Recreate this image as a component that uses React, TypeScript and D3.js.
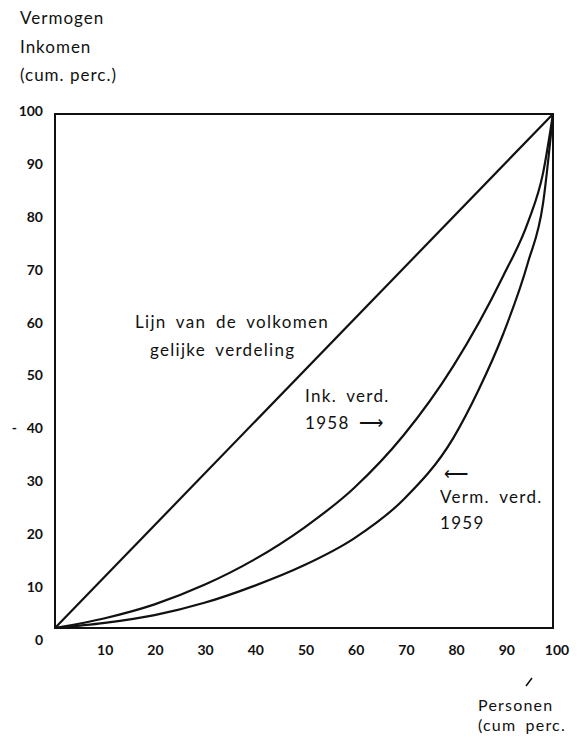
import React from 'react';
import * as d3 from 'd3';

const width = 584;
const height = 737;

// plot box in page pixels
const left = 55;
const right = 553;
const top = 114;
const bottom = 628;

const ticks = [0, 10, 20, 30, 40, 50, 60, 70, 80, 90, 100];

// cum. perc. personen -> cum. perc. inkomen (1958)
const incomeX = [0, 10, 20, 30, 40, 50, 60, 70, 80, 90, 95, 98, 100];
const incomeY = [0, 1.9, 4.6, 8.4, 13.3, 19.5, 27.2, 37.5, 51, 68.5, 79, 88.5, 100];

// cum. perc. personen -> cum. perc. vermogen (1959)
const wealthX = [0, 10, 20, 30, 40, 50, 60, 70, 80, 85, 90, 95, 98, 100];
const wealthY = [0, 1, 2.5, 4.9, 8.2, 12.2, 17.4, 25, 37, 46.2, 57.2, 71.2, 82.6, 100];

const equalX = [0, 100];
const equalY = [0, 100];

const font = 'Lato, "Open Sans", sans-serif';

const x = d3.scaleLinear().domain([0, 100]).range([left, right]);
const y = d3.scaleLinear().domain([0, 100]).range([bottom, top]);
// printed labels drift a little from the box in the scan
const yLabel = d3.scaleLinear().domain([0, 100]).range([640, 111]);
const xLabel = d3.scaleLinear().domain([0, 100]).range([55, 557]);

const line = d3
  .line<[number, number]>()
  .x((d) => x(d[0]))
  .y((d) => y(d[1]))
  .curve(d3.curveMonotoneX);

const pairs = (xs: number[], ys: number[]) =>
  xs.map((v, i) => [v, ys[i]] as [number, number]);

export default function App() {
  return (
    <svg
      width={width}
      height={height}
      style={{ position: 'absolute', left: 0, top: 0, background: '#fff' }}
      fontFamily={font}
    >
      <rect width={width} height={height} fill="#fff" />

      {/* axis title top */}
      <g fontSize={17} letterSpacing={1} fill="#111">
        <text x={20} y={24}>Vermogen</text>
        <text x={20} y={53}>Inkomen</text>
        <text x={20} y={81}>(cum. perc.)</text>
      </g>

      {/* box */}
      <rect
        x={left}
        y={top}
        width={right - left}
        height={bottom - top}
        fill="none"
        stroke="#111"
        strokeWidth={2}
      />

      {/* y labels */}
      <g fontSize={14} fontWeight={700} fill="#111" textAnchor="end">
        {ticks.map((t) => (
          <text key={t} x={43} y={yLabel(t)} dy="0.35em">
            {t}
          </text>
        ))}
      </g>
      <text x={17} y={yLabel(40)} dy="0.35em" fontSize={14} fontWeight={700} fill="#111" textAnchor="end">-</text>

      {/* x labels */}
      <g fontSize={14} fontWeight={700} fill="#111" textAnchor="middle">
        {ticks.slice(1).map((t) => (
          <text key={t} x={xLabel(t)} y={650} dy="0.35em">
            {t}
          </text>
        ))}
      </g>

      {/* lines */}
      <g fill="none" stroke="#111" strokeWidth={2.2} strokeLinejoin="round">
        <path d={line(pairs(equalX, equalY)) || ''} />
        <path d={line(pairs(incomeX, incomeY)) || ''} />
        <path d={line(pairs(wealthX, wealthY)) || ''} />
      </g>

      {/* annotations */}
      <g fontSize={17} letterSpacing={1.3} wordSpacing={4} fill="#111">
        <text x={135} y={328}>Lijn van de volkomen</text>
        <text x={150} y={356}>gelijke verdeling</text>
        <text x={305} y={402}>Ink. verd.</text>
        <text x={305} y={429}>1958 ⟶</text>
        <text x={444} y={480}>⟵</text>
        <text x={440} y={503}>Verm. verd.</text>
        <text x={440} y={529}>1959</text>
      </g>
      <g fontSize={16} letterSpacing={1.2} wordSpacing={4} fill="#111">
        <text x={478} y={711}>Personen</text>
        <text x={478} y={731}>(cum  perc.</text>
      </g>
      <path d="M526,686 L532,678" stroke="#111" strokeWidth={1.5} />
    </svg>
  );
}
